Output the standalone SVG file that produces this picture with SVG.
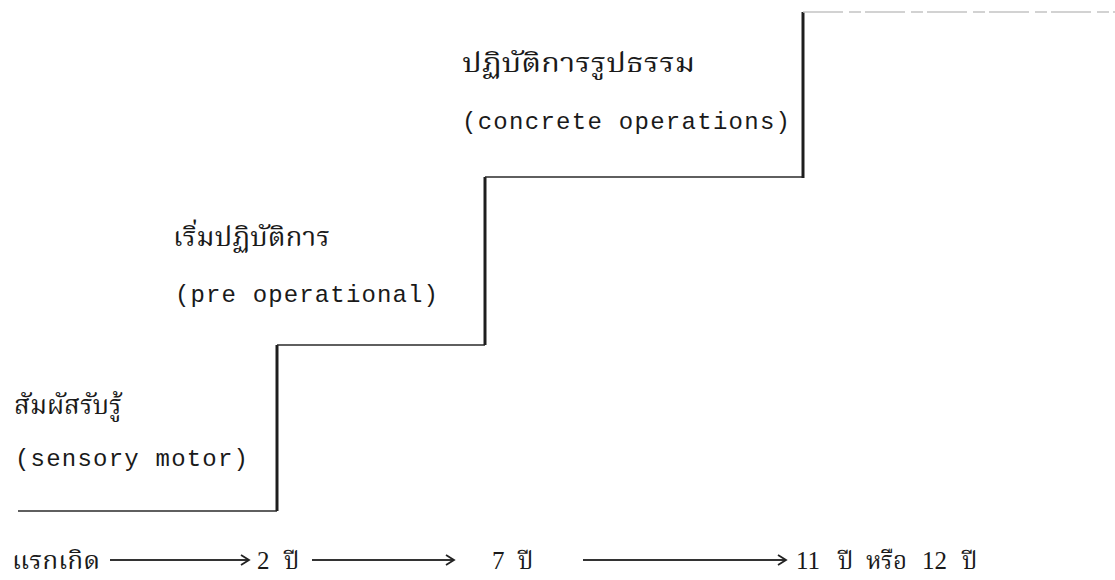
<svg xmlns="http://www.w3.org/2000/svg" width="1115" height="580" viewBox="0 0 1115 580">
  <style>
    .th { font-family: "Noto Serif Thai", "Noto Sans Thai", "Norasi", "Loma", "Garuda", "Liberation Serif", serif; font-size: 26px; fill: #1a1a1a; }
    .th-sm { font-family: "Noto Serif Thai", "Noto Sans Thai", "Norasi", "Loma", "Garuda", "Liberation Serif", serif; font-size: 24px; fill: #1a1a1a; }
    .en { font-family: "Liberation Mono", "DejaVu Sans Mono", monospace; font-size: 24px; fill: #1a1a1a; }
    .num { font-family: "Liberation Serif", "DejaVu Serif", serif; font-size: 25px; fill: #1a1a1a; }
    .riser { stroke: #1e1e1e; stroke-width: 3; fill: none; }
    .tread { stroke: #2a2a2a; stroke-width: 1.6; fill: none; }
    .tread-top { stroke: #c4c4c4; stroke-width: 1.4; fill: none; stroke-dasharray: 40 6 12 4; }
    .arrow { stroke: #333; stroke-width: 1.8; fill: none; }
    .head { stroke: #222; stroke-width: 1.8; fill: none; stroke-linejoin: miter; }
  </style>
  <rect width="1115" height="580" fill="#ffffff"/>

  <!-- staircase of developmental stages -->
  <g id="staircase">
    <line class="tread" x1="18" y1="511" x2="277" y2="511"/>
    <line class="riser" x1="277" y1="511" x2="277" y2="345"/>
    <line class="tread" x1="277" y1="345" x2="485" y2="345"/>
    <line class="riser" x1="485" y1="345" x2="485" y2="177"/>
    <line class="tread" x1="485" y1="177" x2="803" y2="177"/>
    <line class="riser" x1="803" y1="178" x2="803" y2="12"/>
    <line class="tread-top" x1="803" y1="12" x2="1115" y2="12"/>
  </g>

  <g id="stage-sensory-motor">
    <text class="th" x="14" y="414" textLength="108" lengthAdjust="spacingAndGlyphs">สัมผัสรับรู้</text>
    <text class="en" x="15" y="466" textLength="233" lengthAdjust="spacing">(sensory motor)</text>
  </g>

  <g id="stage-pre-operational">
    <text class="th" x="173" y="246" textLength="157" lengthAdjust="spacingAndGlyphs">เริ่มปฏิบัติการ</text>
    <text class="en" x="175" y="302" textLength="263" lengthAdjust="spacing">(pre operational)</text>
  </g>

  <g id="stage-concrete-operations">
    <text class="th" x="462" y="72" textLength="233" lengthAdjust="spacingAndGlyphs">ปฏิบัติการรูปธรรม</text>
    <text class="en" x="462" y="129" textLength="328" lengthAdjust="spacing">(concrete operations)</text>
  </g>

  <!-- age timeline -->
  <g id="age-birth">
    <text class="th-sm" x="12" y="569" textLength="88" lengthAdjust="spacingAndGlyphs">แรกเกิด</text>
  </g>
  <g id="age-2">
    <text class="num" x="257" y="569">2</text>
    <text class="th-sm" x="284" y="569">ปี</text>
  </g>
  <g id="age-7">
    <text class="num" x="492" y="569">7</text>
    <text class="th-sm" x="518" y="569">ปี</text>
  </g>
  <g id="age-11-12">
    <text class="num" x="796" y="569">11</text>
    <text class="th-sm" x="838" y="569">ปี</text>
    <text class="th-sm" x="866" y="569">หรือ</text>
    <text class="num" x="922" y="569">12</text>
    <text class="th-sm" x="962" y="569">ปี</text>
  </g>

  <g id="connectors">
    <line class="arrow" x1="110" y1="560" x2="249" y2="560"/>
    <polyline class="head" points="241,555 249,560 241,565"/>
    <line class="arrow" x1="312" y1="560" x2="454" y2="560"/>
    <polyline class="head" points="446,555 454,560 446,565"/>
    <line class="arrow" x1="583" y1="560" x2="786" y2="560"/>
    <polyline class="head" points="778,555 786,560 778,565"/>
  </g>
</svg>
